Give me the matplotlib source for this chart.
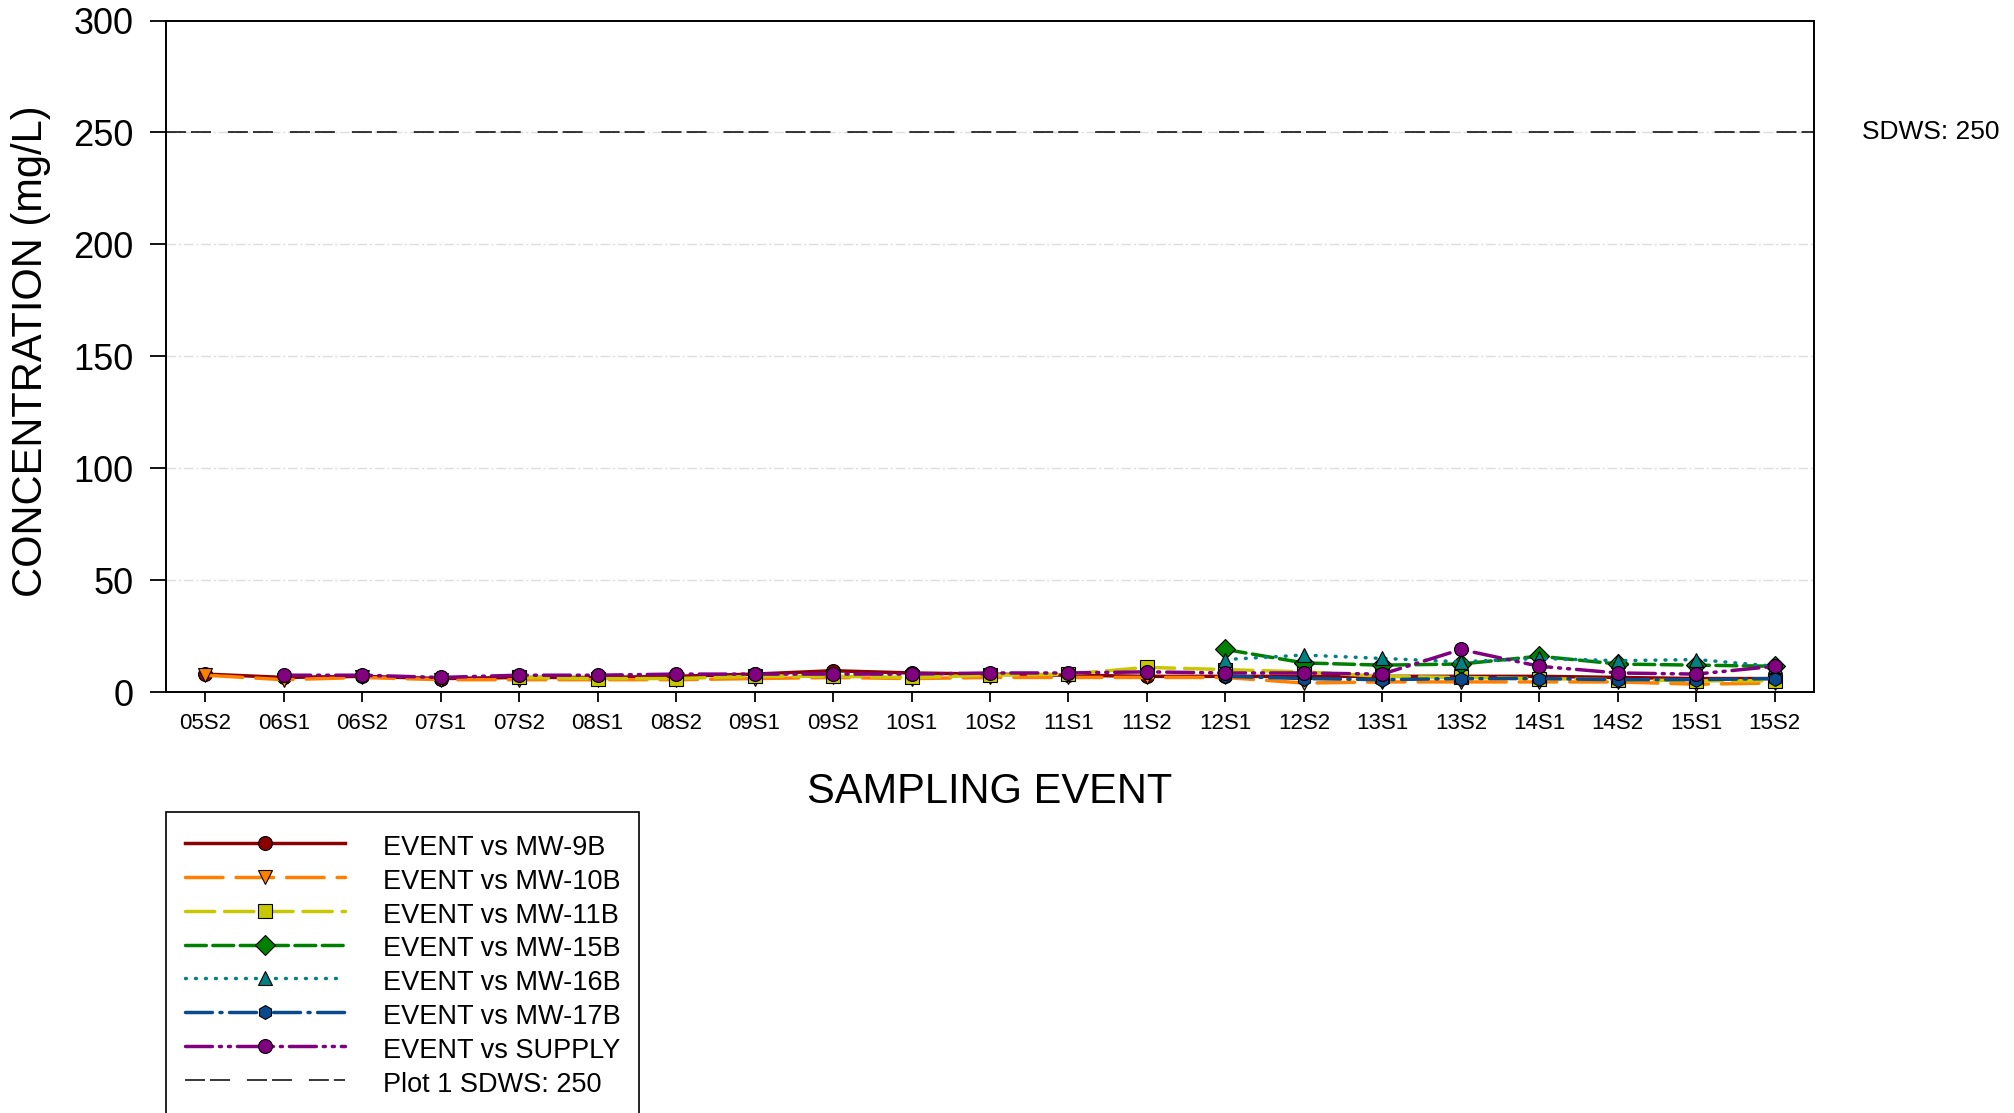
import numpy as np
import matplotlib
matplotlib.use("Agg")
import matplotlib.pyplot as plt
import matplotlib.transforms as mtransforms

plt.rcParams['font.family'] = ['Liberation Sans', 'DejaVu Sans']
plt.rcParams['lines.scale_dashes'] = False

# sampling events (x categories)
events = ['05S2', '06S1', '06S2', '07S1', '07S2', '08S1', '08S2', '09S1', '09S2', '10S1', '10S2',
          '11S1', '11S2', '12S1', '12S2', '13S1', '13S2', '14S1', '14S2', '15S1', '15S2']

nan = np.nan
# concentrations (mg/L)
mw_9b = [8, 6.5, 7, 6, 6.5, 6.5, 7, 8, 9.5, 8.5, 8, 7.5, 7, 7, 7, 7, 7, 7, 6.5, 6, 6]
mw_10b = [7.5, 5.5, 6.5, 5.5, 5.5, 5.5, 5.5, 6, 6.5, 6, 6.5, 6.5, 6.5, 6.5, 4, 4.5, 4.5, 4.5, 4.5, 3.5, 4]
mw_11b = [nan, nan, nan, nan, 6.5, 6, 6, 7, 7, 6.5, 7.5, 8, 11, 10, 9, 7, 6.5, 6, 5.5, 5, 5]
mw_15b = [nan] * 13 + [19, 13, 12, 12.5, 16, 12.5, 12, 11.5]
mw_16b = [nan] * 13 + [14.5, 16.5, 15, 13.5, 15, 14, 14.5, 11.5]
mw_17b = [nan] * 13 + [7, 6, 5.5, 6, 6, 5.5, 5.5, 6]
supply = [nan, 7.5, 7.5, 6.5, 7.5, 7.5, 8, 8, 8, 8, 8.5, 8.5, 9, 8.5, 8.5, 8, 19, 11.5, 8.5, 8, 11.5]

sdws_limit = 250
y_ticks = [0, 50, 100, 150, 200, 250, 300]

series = [
    ('EVENT vs MW-9B', mw_9b, '#8B0000', 'o', '-'),
    ('EVENT vs MW-10B', mw_10b, '#FF8000', 'v', (0, (27, 9.4))),
    ('EVENT vs MW-11B', mw_11b, '#C8C800', 's', (0, (21, 7.2))),
    ('EVENT vs MW-15B', mw_15b, '#008000', 'D', (0, (15, 4.7))),
    ('EVENT vs MW-16B', mw_16b, '#008080', '^', (0, (0.6, 6.6))),
    ('EVENT vs MW-17B', mw_17b, '#0A4A8C', 'h', (0, (19.4, 5.4, 1.5, 5.4))),
    ('EVENT vs SUPPLY', supply, '#800080', 'o', (0, (19.4, 5, 1.5, 5, 1.5, 5))),
]

fig = plt.figure(figsize=(20.14, 11.13), dpi=100)
ax = fig.add_axes([166 / 2014, 1 - 692 / 1113, 1648 / 2014, 671.5 / 1113])

x = np.arange(len(events))

# light grid
for g in [50, 100, 150, 200, 250]:
    ax.axhline(g, color='#DDDDDD', lw=1, ls=(0, (7, 2, 1.5, 2)), zorder=0)

handles = []
for label, vals, color, marker, ls in series:
    line, = ax.plot(x, vals, color=color, lw=2.5, ls=ls, marker=marker, markersize=10,
                    markerfacecolor=color, markeredgecolor='black', markeredgewidth=0.8,
                    dash_capstyle='round', label=label, zorder=3)
    handles.append(line)

sdws, = ax.plot([-0.5, 20.5], [sdws_limit, sdws_limit], color='black', lw=1.1,
                ls=(0, (14.4, 3.6, 14.4, 12.2)), label='Plot 1 SDWS: 250', zorder=2)
handles.append(sdws)

ax.set_xlim(-0.5, 20.5)
ax.set_ylim(0, 300)
ax.set_xticks(x)
ax.set_xticklabels(events, fontsize=16)
ax.set_yticks(y_ticks)
ax.set_yticklabels([str(v) for v in y_ticks], fontsize=26)
ax.tick_params(axis='y', length=11.5, width=1.3, pad=12, color='black')
ax.tick_params(axis='x', length=7, width=1.3, pad=8, color='black')
for sp in ax.spines.values():
    sp.set_linewidth(1.4)

ax.set_ylabel('CONCENTRATION (mg/L)', fontsize=30, labelpad=11)
ax.yaxis.set_label_coords(-0.07, 0.508)
ax.set_xlabel('SAMPLING EVENT', fontsize=30, labelpad=27.5)

trans = mtransforms.blended_transform_factory(ax.transAxes, ax.transData)
ax.text(1.029, sdws_limit, 'SDWS: 250', transform=trans, ha='left', va='center', fontsize=19)

leg = fig.legend(handles=handles, loc='upper left',
                 bbox_to_anchor=(166 / 2014, 1 - 812 / 1113), borderaxespad=0,
                 fontsize=19.5, numpoints=1, handlelength=5.9, handletextpad=1.4,
                 handleheight=1.3, labelspacing=0.15, borderpad=0.7,
                 fancybox=False, framealpha=1)
leg.get_frame().set_edgecolor('black')
leg.get_frame().set_linewidth(1.2)

fig.savefig('out.png', dpi=100)
